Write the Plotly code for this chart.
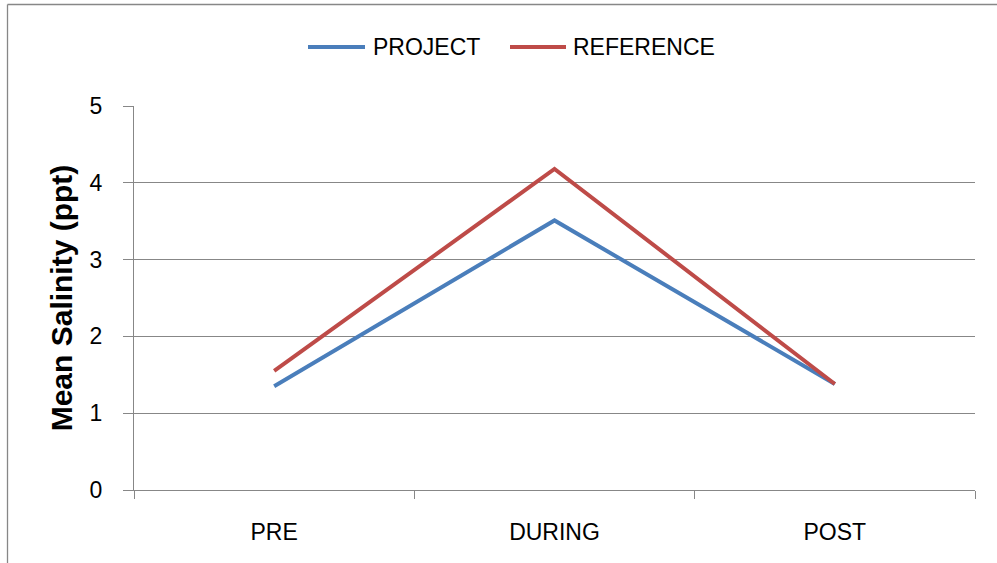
import plotly.graph_objects as go

# Mean salinity by period, project vs reference sites
periods = ["PRE", "DURING", "POST"]
project = [1.35, 3.51, 1.38]
reference = [1.55, 4.18, 1.38]
series_names = ["PROJECT", "REFERENCE"]
series_colors = ["#4A7EBB", "#BE4B48"]
y_ticks = [0, 1, 2, 3, 4, 5]

W, H = 997, 563
L, R, T, B = 134, 22, 106, 73
PW, PH = W - L - R, H - T - B

FONT = "Liberation Sans"
GRID = "#878787"


def px_x(px):
    return (px - L) / PW


def px_y(py):
    return (H - B - py) / PH


fig = go.Figure()
for name, vals, col in zip(series_names, [project, reference], series_colors):
    fig.add_trace(go.Scatter(
        x=periods, y=vals, name=name, mode="lines",
        line=dict(color=col, width=4),
        showlegend=False,
    ))

# legend drawn as line keys + labels above the plot
shapes = []
annotations = []
legend_items = [(308, 365, 371), (510, 566, 571)]
for (x0, x1, tx), name, col in zip(legend_items, series_names, series_colors):
    shapes.append(dict(type="line", xref="paper", yref="paper",
                       x0=px_x(x0), x1=px_x(x1), y0=px_y(47), y1=px_y(47),
                       line=dict(color=col, width=4)))
    annotations.append(dict(text=name, xref="paper", yref="paper",
                            x=px_x(tx), y=px_y(47), xanchor="left", yanchor="middle",
                            showarrow=False, font=dict(family=FONT, size=23, color="#000000")))

# chart frame (top and left edges)
shapes.append(dict(type="line", xref="paper", yref="paper",
                   x0=px_x(7.5), x1=px_x(W + 5), y0=px_y(4.5), y1=px_y(4.5),
                   line=dict(color=GRID, width=1.3)))
shapes.append(dict(type="line", xref="paper", yref="paper",
                   x0=px_x(7.5), x1=px_x(7.5), y0=px_y(4.5), y1=px_y(H + 5),
                   line=dict(color=GRID, width=1.3)))

fig.update_layout(
    width=W, height=H,
    margin=dict(l=L, r=R, t=T, b=B),
    paper_bgcolor="white", plot_bgcolor="white",
    font=dict(family=FONT, size=23, color="#000000"),
    shapes=shapes, annotations=annotations,
    xaxis=dict(
        type="category", range=[-0.5, 2.5],
        showgrid=False, zeroline=False,
        showline=True, linecolor=GRID, linewidth=1,
        ticks="outside", tickson="boundaries", ticklen=8, tickcolor=GRID,
        tickfont=dict(family=FONT, size=23, color="#000000"),
        ticklabelstandoff=21,
    ),
    yaxis=dict(
        range=[0, 5], tickvals=y_ticks,
        showgrid=True, gridcolor=GRID, gridwidth=1,
        zeroline=False,
        showline=True, linecolor=GRID, linewidth=1,
        ticks="outside", ticklen=10, tickcolor=GRID,
        tickfont=dict(family=FONT, size=23, color="#000000"),
        ticklabelstandoff=16,
        title=dict(text="<b>Mean Salinity (ppt)</b>", standoff=8,
                   font=dict(family=FONT, size=30, color="#000000")),
    ),
)

fig.write_html("out.html")
